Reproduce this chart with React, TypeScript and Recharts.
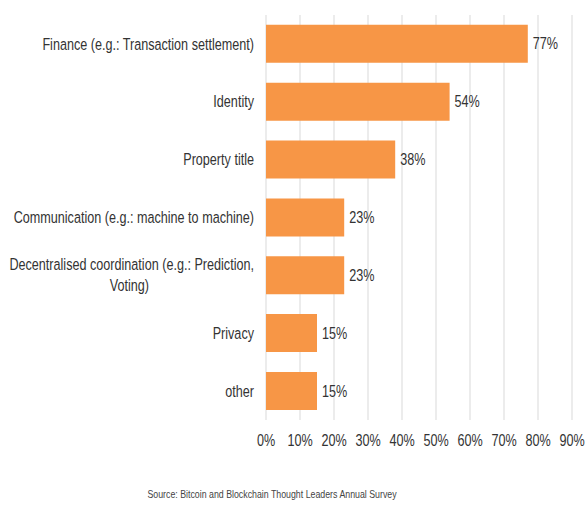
import { BarChart, Bar, XAxis, YAxis, CartesianGrid, LabelList } from "recharts";

// Usos de blockchain (encuesta).
const categories = [
  "Finance (e.g.: Transaction settlement)",
  "Identity",
  "Property title",
  "Communication (e.g.: machine to machine)",
  "Decentralised coordination (e.g.: Prediction,\nVoting)",
  "Privacy",
  "other",
];
const shares = [77, 54, 38, 23, 23, 15, 15];
const xTicks = [0, 10, 20, 30, 40, 50, 60, 70, 80, 90];

const data = categories.map((c, i) => ({ cat: c, v: shares[i] }));

const FONT = "'Liberation Sans', Arial, sans-serif";
const TXT = "#333333";
const ORANGE = "#F79646";
const FS = 16.5;
const SX = 0.765; // el original usa una fuente estrecha: la imitamos comprimiendo en x

// eslint-disable-next-line @typescript-eslint/no-explicit-any
const CatTick = (props: any) => {
  const { x, y, payload } = props;
  const lines = String(payload.value).split("\n");
  const lh = 21;
  const y0 = -((lines.length - 1) * lh) / 2;
  const firstW = 326; // ancho local aprox. de la primera línea (para centrar la segunda)
  return (
    <g transform={`translate(${x - 10},${y}) scale(${SX},1)`}>
      {lines.map((l, i) => (
        <text
          key={i}
          x={i === 0 ? 0 : -firstW / 2}
          y={y0 + i * lh}
          textAnchor={i === 0 ? "end" : "middle"}
          dominantBaseline="central"
          fill={TXT}
          fontSize={FS}
          fontFamily={FONT}
        >
          {l}
        </text>
      ))}
    </g>
  );
};

// eslint-disable-next-line @typescript-eslint/no-explicit-any
const PctTick = (props: any) => {
  const { x, y, payload } = props;
  return (
    <g transform={`translate(${x},${y}) scale(${SX},1)`}>
      <text textAnchor="middle" dy="0.71em" fill={TXT} fontSize={FS} fontFamily={FONT}>
        {`${payload.value}%`}
      </text>
    </g>
  );
};

// eslint-disable-next-line @typescript-eslint/no-explicit-any
const ValueLabel = (props: any) => {
  const x = Number(props.x) || 0;
  const y = Number(props.y) || 0;
  const w = Number(props.width) || 0;
  const h = Number(props.height) || 0;
  return (
    <g transform={`translate(${x + w + 5},${y + h / 2}) scale(${SX},1)`}>
      <text textAnchor="start" dominantBaseline="central" fill={TXT} fontSize={FS} fontFamily={FONT}>
        {`${props.value}%`}
      </text>
    </g>
  );
};

export default function App() {
  return (
    <div style={{ position: "absolute", left: 0, top: 0, width: 585, height: 507, background: "#fff" }}>
      <BarChart
        width={585}
        height={507}
        data={data}
        layout="vertical"
        margin={{ top: 15, right: 13, bottom: 57, left: 0 }}
        barCategoryGap="17%"
      >
        <CartesianGrid horizontal={false} stroke="#d9d9d9" />
        <XAxis
          type="number"
          domain={[0, 90]}
          ticks={xTicks}
          interval={0}
          tickLine={false}
          tickSize={0}
          tickMargin={14}
          axisLine={false}
          height={30}
          tick={<PctTick />}
        />
        <YAxis
          type="category"
          dataKey="cat"
          width={266}
          tickLine={false}
          tickSize={0}
          axisLine={false}
          interval={0}
          tick={<CatTick />}
        />
        <Bar dataKey="v" fill={ORANGE} isAnimationActive={false}>
          <LabelList dataKey="v" content={<ValueLabel />} />
        </Bar>
      </BarChart>
      <svg width={585} height={20} style={{ position: "absolute", left: 0, top: 484 }}>
        <g transform={`translate(272,10) scale(0.8,1)`}>
          <text textAnchor="middle" dominantBaseline="central" fill="#444" fontSize={11} fontFamily={FONT}>
            Source: Bitcoin and Blockchain Thought Leaders Annual Survey
          </text>
        </g>
      </svg>
    </div>
  );
}
